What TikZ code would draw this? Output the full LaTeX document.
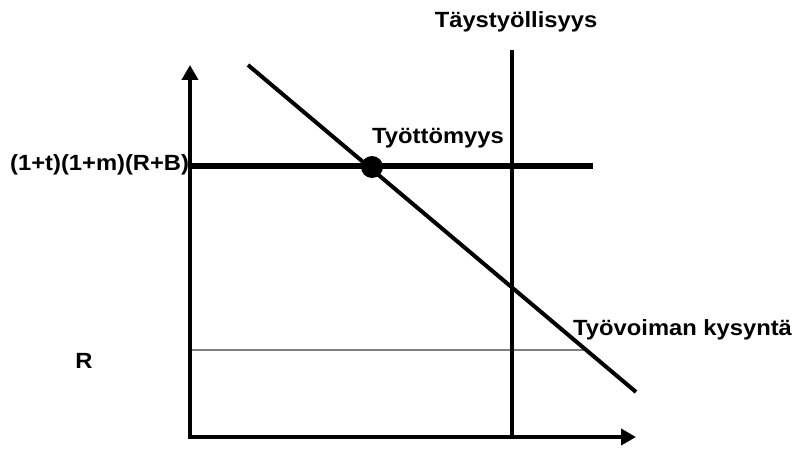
\documentclass[tikz,border=0pt]{standalone}
\usepackage{fontspec}
\setmainfont[FakeStretch=1.08]{Liberation Sans}
\usetikzlibrary{arrows.meta}
\begin{document}
\begin{tikzpicture}[x=1pt,y=-1pt,
  lbl/.style={font=\fontsize{22}{26}\selectfont\bfseries, inner sep=0pt},
  axis/.style={line width=4pt, -{Triangle[length=15pt,width=16pt]}},
  curve/.style={line width=4pt},
  thick line/.style={line width=6.5pt},
  thin gray/.style={line width=1.5pt, gray}
]
\useasboundingbox (0,0) rectangle (799,449);
% coordinates
\coordinate (O) at (190,437);
\coordinate (Ytop) at (190,65);
\coordinate (Xend) at (636,437);
\coordinate (Vtop) at (512,50);
\coordinate (Vbot) at (512,437);
\coordinate (Hl) at (190,166);
\coordinate (Hr) at (593,166);
\coordinate (Gl) at (190,350);
\coordinate (Gr) at (587,350);
\coordinate (Ds) at (248,65);
\coordinate (De) at (636,392);
% lines
\draw[thin gray] (Gl) -- (Gr);
\draw[line width=3.5pt] (Vtop) -- (Vbot);
\draw[thick line] (Hl) -- (Hr);
\draw[curve] (Ds) -- (De);
\draw[axis] ([yshift=2pt]O) -- (Ytop);
\draw[axis] ([xshift=-2pt]O) -- (Xend);
\node[circle, fill=black, minimum size=22pt, inner sep=0pt] (dot) at (372,167) {};
% labels
\node[lbl, anchor=base] (full) at (516,28) {Täystyöllisyys};
\node[lbl, anchor=base] (unemp) at (438,143) {Työttömyys};
\node[lbl, anchor=base west] (wage) at (10,170) {(1+t)(1+m)(R+B)};
\node[lbl, anchor=base west] (demand) at (573,335) {Työvoiman kysyntä};
\node[lbl, anchor=base] (R) at (84,368) {R};
\end{tikzpicture}
\end{document}
